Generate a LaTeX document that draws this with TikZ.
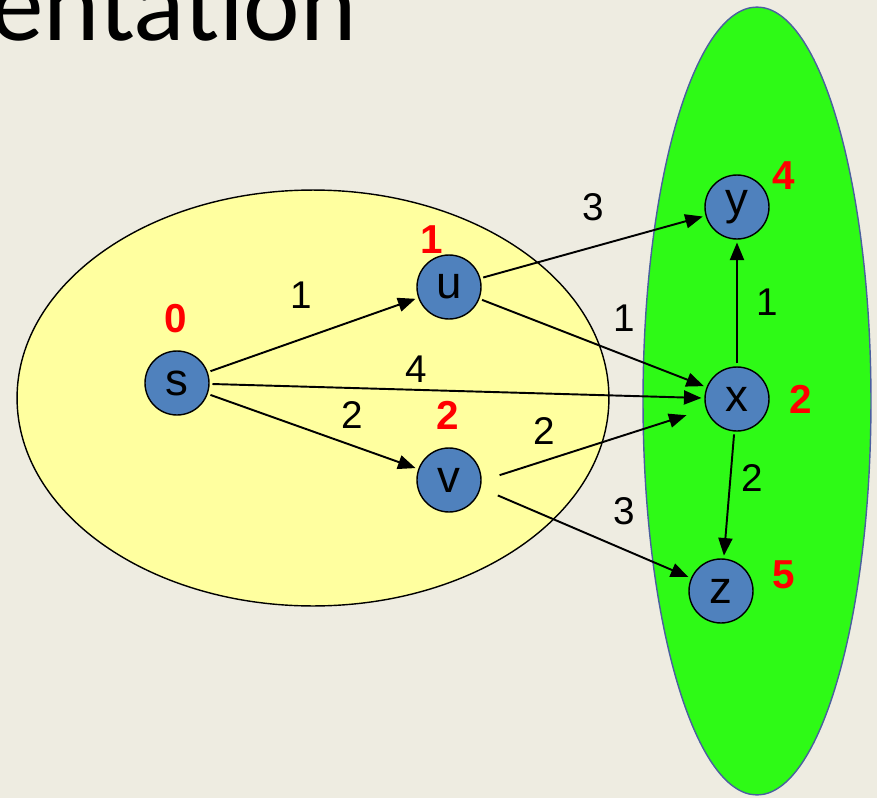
\documentclass[tikz,border=0pt]{standalone}
\usepackage{fontspec}
\setmainfont{Liberation Sans}
\newfontfamily\titlefont{Carlito}
\usepackage{xcolor}
\usetikzlibrary{arrows.meta, positioning, calc}

\definecolor{slidebg}{HTML}{EEECE1}
\definecolor{setyellow}{HTML}{FFFF9F}
\definecolor{setgreen}{HTML}{2EFA16}
\definecolor{setborder}{HTML}{4A5F9F}
\definecolor{vertexblue}{HTML}{4F81BD}

\begin{document}
\begin{tikzpicture}[
    x=0.02cm, y=-0.02cm,
    vertex/.style={draw, circle, line width=0.8pt, fill=vertexblue, minimum size=1.28cm, inner sep=0pt, outer sep=2pt, font=\fontsize{26}{26}\selectfont},
    dist/.style={text=red, font=\bfseries\fontsize{23}{23}\selectfont},
    weight/.style={font=\fontsize{22}{22}\selectfont},
    edge/.style={-{Triangle[length=10pt, width=8pt]}, line width=1.1pt}
]

% Slide background
\useasboundingbox (0,0) rectangle (877,798);
\clip (0,0) rectangle (877,798);
\fill[slidebg] (0,0) rectangle (877,798);

% Title (cut off)
\node[font=\titlefont\fontsize{61}{61}\selectfont, anchor=base east, inner sep=0pt] (title) at (357,40) {entation};

% Vertex sets
\draw[fill=setyellow, line width=0.8pt] (313,398) ellipse [x radius=5.92cm, y radius=4.16cm];
\draw[fill=setgreen, draw=setborder, line width=0.8pt] (757,401) ellipse [x radius=2.28cm, y radius=7.88cm];

% Vertices
\node[vertex] (s) at (177,383) {s};
\node[vertex] (u) at (449,287) {u};
\node[vertex] (v) at (449,480) {v};
\node[vertex] (y) at (737,207) {y};
\node[vertex] (x) at (737,399) {x};
\node[vertex] (z) at (721,591) {z};

% Distances
\node[dist] (d_s) at (176,319) {0};
\node[dist] (d_u) at (432,240) {1};
\node[dist] (d_v) at (448,415) {2};
\node[dist] (d_y) at (784,176) {4};
\node[dist] (d_x) at (801,399) {2};
\node[dist] (d_z) at (784,575) {5};

% Edges
\draw[edge] (s) -- (u);
\draw[edge] (s) -- (x);
\draw[edge] (s) -- (v);
\draw[edge] (u) -- (y);
\draw[edge] (u) -- (x);
\draw[edge] (x) -- (y);
\draw[edge] (x) -- (z);
\draw[edge, shorten <=9pt, shorten >=10pt] (v.east) -- (x);
\draw[edge, shorten <=9pt] (v.-15) -- (z);

% Weights
\node[weight] (w_su) at (301,295) {1};
\node[weight] (w_sx) at (416,369) {4};
\node[weight] (w_sv) at (352,415) {2};
\node[weight] (w_uy) at (593,207) {3};
\node[weight] (w_ux) at (624,318) {1};
\node[weight] (w_xy) at (767,302) {1};
\node[weight] (w_vx) at (544,431) {2};
\node[weight] (w_xz) at (752,478) {2};
\node[weight] (w_vz) at (624,511) {3};

\end{tikzpicture}
\end{document}
